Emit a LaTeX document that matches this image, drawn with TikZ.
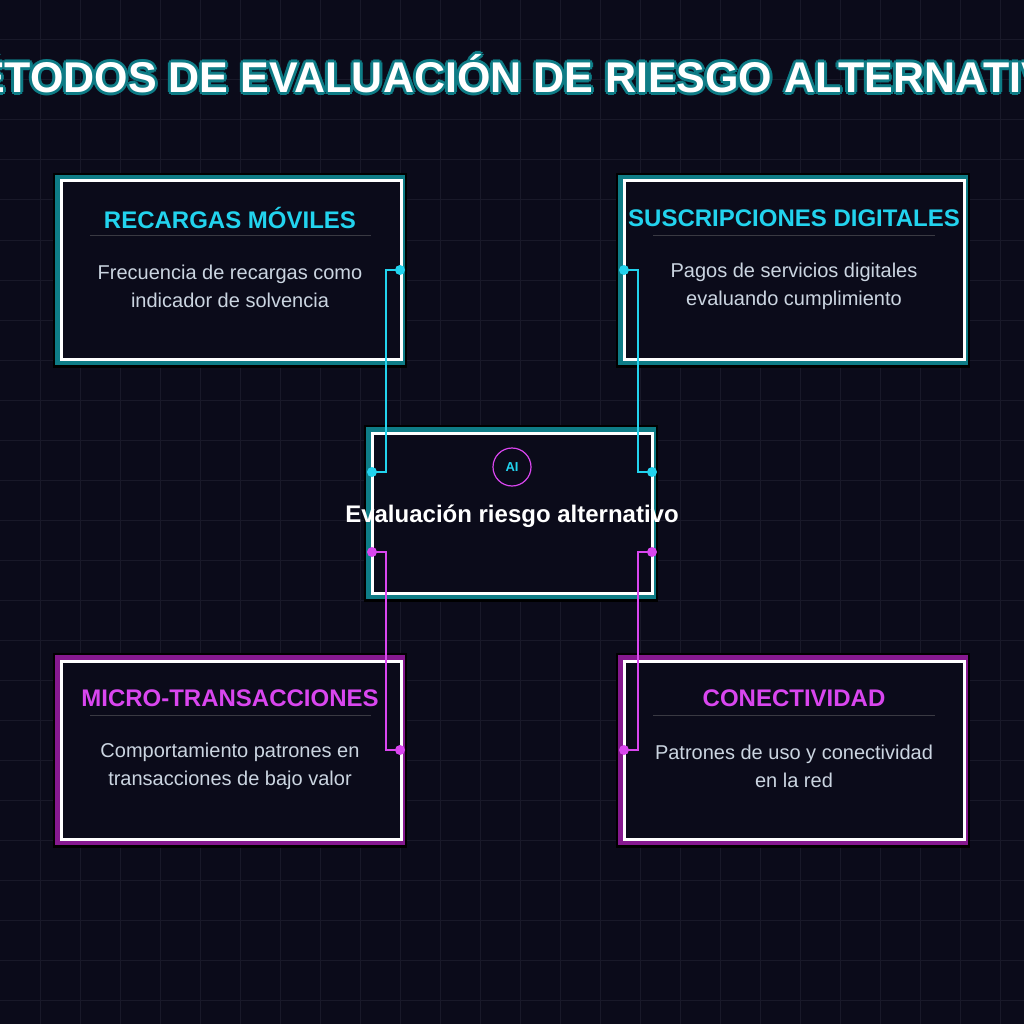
\documentclass[tikz,border=0pt]{standalone}
\usepackage{fontspec}
\setmainfont{Liberation Sans}
\begin{document}
\begin{tikzpicture}[x=1pt,y=-1pt,
  lbl/.style={font=\bfseries\fontsize{24}{28}\selectfont,anchor=center},
  desc/.style={font=\fontsize{20}{28}\selectfont,text=descc,align=center},
  ttl/.style={font=\bfseries\fontsize{43}{48}\selectfont},
  dot/.style={circle,inner sep=0pt,minimum size=10pt}]
\definecolor{bg}{HTML}{0B0B1A}
\definecolor{gridc}{HTML}{191929}
\definecolor{cyn}{HTML}{22D3EE}
\definecolor{mag}{HTML}{D946EF}
\definecolor{tealb}{HTML}{0E7C86}
\definecolor{purb}{HTML}{86198F}
\definecolor{descc}{HTML}{CBD5E1}
\useasboundingbox (0,0) rectangle (1024,1024);
\clip (0,0) rectangle (1024,1024);
\fill[bg] (0,0) rectangle (1024,1024);
\foreach \i in {40,80,...,1000}{\draw[gridc,line width=1pt] (\i,0)--(\i,1024); \draw[gridc,line width=1pt] (0,\i)--(1024,\i);}
% title
\foreach \dx/\dy in {-3/0,3/0,0/-3,0/3,-2/-2,2/2,-2/2,2/-2}
  \node[ttl,text=tealb] at (512+\dx,74+\dy) {MÉTODOS DE EVALUACIÓN DE RIESGO ALTERNATIVO};
\node[ttl,text=white] (title) at (512,74) {MÉTODOS DE EVALUACIÓN DE RIESGO ALTERNATIVO};
% boxes
\newcommand{\mybox}[6]{%
  \fill[black] (#1-8,#2-8) rectangle (#3+6,#4+9);
  \fill[#5] (#1-6,#2-6) rectangle (#3+4,#4+6);
  \fill[bg] (#1,#2) rectangle (#3,#4);
  \draw[white,line width=3pt] (#1,#2) rectangle (#3,#4);
  \coordinate (#6) at ({(#1+#3)/2},{(#2+#4)/2});}
\mybox{61}{181}{401}{359}{tealb}{tl}
\mybox{624}{181}{964}{359}{tealb}{tr}
\mybox{372}{433}{652}{593}{tealb}{cen}
\mybox{61}{661}{401}{839}{purb}{bl}
\mybox{624}{661}{964}{839}{purb}{br}
% texts
\node[lbl,text=cyn] (tlh) at (230,218) {RECARGAS MÓVILES};
\draw[gray!40!bg] (90,235)--(371,235);
\node[desc] (tld) at (230,286) {Frecuencia de recargas como\\indicador de solvencia};
\node[lbl,text=cyn] (trh) at (794,218) {SUSCRIPCIONES DIGITALES};
\draw[gray!40!bg] (653,235)--(935,235);
\node[desc] (trd) at (794,286) {Pagos de servicios digitales\\evaluando cumplimiento};
\node[lbl,text=mag] (blh) at (230,698) {MICRO-TRANSACCIONES};
\draw[gray!40!bg] (90,715)--(371,715);
\node[desc] (bld) at (230,766) {Comportamiento patrones en\\transacciones de bajo valor};
\node[lbl,text=mag] (brh) at (794,698) {CONECTIVIDAD};
\draw[gray!40!bg] (653,715)--(935,715);
\node[desc] (brd) at (794,766) {Patrones de uso y conectividad\\en la red};
\node[circle,draw=mag,line width=1.2pt,minimum size=38pt,inner sep=0pt,text=cyn,font=\bfseries\fontsize{13}{15}\selectfont] (ai) at (512,467) {AI};
\node[font=\bfseries\fontsize{24}{28}\selectfont,text=white] (ct) at (512,516) {Evaluación riesgo alternativo};
% connectors
\node[dot,fill=cyn] (d1) at (400,270) {}; \node[dot,fill=cyn] (d2) at (372,472) {};
\node[dot,fill=cyn] (d3) at (624,270) {}; \node[dot,fill=cyn] (d4) at (652,472) {};
\node[dot,fill=mag] (d5) at (372,552) {}; \node[dot,fill=mag] (d6) at (400,750) {};
\node[dot,fill=mag] (d7) at (652,552) {}; \node[dot,fill=mag] (d8) at (624,750) {};
\draw[cyn,line width=1.5pt] (d1.center)-|(386,472)--(d2.center);
\draw[cyn,line width=1.5pt] (d3.center)-|(638,472)--(d4.center);
\draw[mag,line width=1.5pt] (d5.center)-|(386,750)--(d6.center);
\draw[mag,line width=1.5pt] (d7.center)-|(638,750)--(d8.center);
\end{tikzpicture}
\end{document}
